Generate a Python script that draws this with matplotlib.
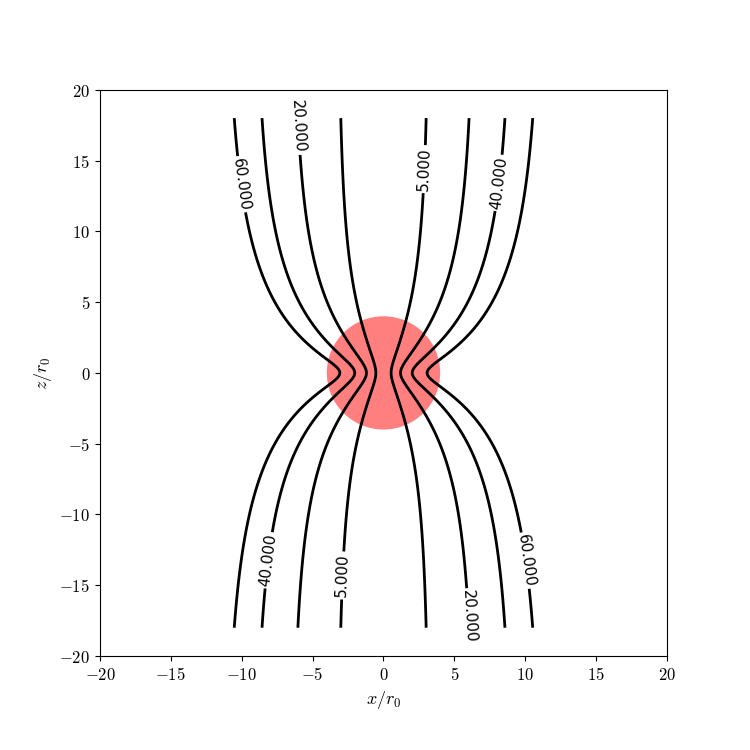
import numpy as np
import matplotlib
matplotlib.use("Agg")
import matplotlib.pyplot as plt
from matplotlib.patches import Circle
from matplotlib.ticker import FuncFormatter

plt.rcParams['mathtext.fontset'] = 'cm'

# contour levels of the flux function
levels = [5, 20, 40, 60]

# hourglass field parameters (uniform part + midplane-pinched part)
b_uniform = 0.46      # coefficient of x^2 far from the core
q_pinch = 110.0       # strength of the pinched component
b_depth = 1.75        # depth of the image source below the midplane
z_stretch = 1.3       # how fast the pinch fades with height
z_soft = 0.6          # rounds off the kink at the midplane

# core radius (in r0)
core_radius = 4.0

# where the labels sit (x, z)
label_pos = [(-10.2, 13.3), (-5.9, 17.4), (2.8, 14.4), (8.3, 13.4),
             (-8.4, -13.2), (-3.1, -14.3), (6.15, -17.2), (10.45, -13.2)]

ticks = [-20, -15, -10, -5, 0, 5, 10, 15, 20]

x = np.linspace(-18, 18, 721)
z = np.linspace(-18, 18, 721)
X, Z = np.meshgrid(x, z)
zb = z_stretch * (np.sqrt(Z**2 + z_soft**2) - z_soft) + b_depth
psi = b_uniform * X**2 + q_pinch * (1 - zb / np.sqrt(X**2 + zb**2))

fig = plt.figure(figsize=(7.5, 7.5), dpi=100)
ax = fig.add_axes([0.1333, 0.1253, 0.756, 0.755])

ax.add_patch(Circle((0, 0), core_radius, color='red', alpha=0.5, lw=0, zorder=1))
cs = ax.contour(X, Z, psi, levels=levels, colors='k', linewidths=2, zorder=2)
ax.clabel(cs, fmt='%1.3f', fontsize=11, manual=label_pos)

ax.set_xlim(-20, 20)
ax.set_ylim(-20, 20)
ax.set_xticks(ticks)
ax.set_yticks(ticks)
fmt = FuncFormatter(lambda v, p: r'$%d$' % v)
ax.xaxis.set_major_formatter(fmt)
ax.yaxis.set_major_formatter(fmt)
ax.tick_params(labelsize=12)
ax.set_xlabel(r'$x/r_0$', fontsize=13)
ax.set_ylabel(r'$z/r_0$', fontsize=13)

fig.savefig('out.png', dpi=100)
